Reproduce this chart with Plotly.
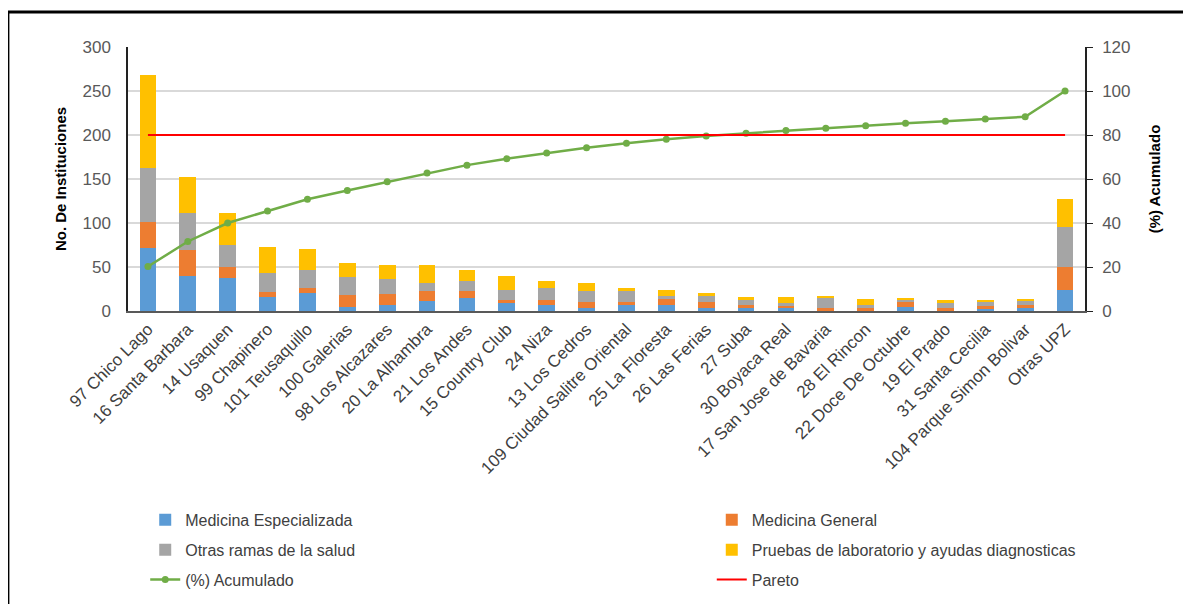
import plotly.graph_objects as go

font_family = "Liberation Sans Narrow, Arial Narrow, Liberation Sans, Arial, sans-serif"
tick_color = "#595959"

upz = ["97 Chico Lago", "16 Santa Barbara", "14 Usaquen", "99 Chapinero", "101 Teusaquillo",
       "100 Galerias", "98 Los Alcazares", "20 La Alhambra", "21 Los Andes", "15 Country Club",
       "24 Niza", "13 Los Cedros", "109 Ciudad Salitre Oriental", "25 La Floresta", "26 Las Ferias",
       "27 Suba", "30 Boyaca Real", "17 San Jose de Bavaria", "28 El Rincon", "22 Doce De Octubre",
       "19 El Prado", "31 Santa Cecilia", "104 Parque Simon Bolivar", "Otras UPZ"]

# valores
med_especializada = [72, 40, 38, 16, 20, 4, 7, 11, 15, 10, 7, 3, 7, 7, 3, 3, 3, 1, 1, 4, 1, 2, 3, 24]
med_general = [29, 29, 12, 6, 6, 14, 12, 12, 8, 2, 6, 7, 3, 7, 7, 4, 3, 2, 2, 6, 2, 4, 4, 26]
otras_ramas = [61, 42, 25, 21, 21, 21, 17, 9, 11, 12, 13, 13, 13, 3, 7, 6, 3, 12, 4, 3, 6, 4, 4, 45]
pruebas_lab = [106, 41, 36, 30, 23, 15, 16, 20, 13, 16, 8, 9, 3, 7, 3, 3, 7, 1, 7, 2, 4, 3, 3, 32]
acumulado = [20.2, 31.6, 40.0, 45.5, 50.8, 54.8, 58.7, 62.7, 66.3, 69.2, 71.8, 74.2, 76.2,
             78.1, 79.6, 80.8, 82.0, 83.1, 84.2, 85.3, 86.3, 87.3, 88.3, 100.0]
pareto = [80] * len(upz)

fig = go.Figure()

bar_series = [
    ("Medicina Especializada", med_especializada, "#5B9BD5", "legend", "g1"),
    ("Medicina General", med_general, "#ED7D31", "legend2", "g2"),
    ("Otras ramas de la salud", otras_ramas, "#A5A5A5", "legend", "g3"),
    ("Pruebas de laboratorio y ayudas diagnosticas", pruebas_lab, "#FFC000", "legend2", "g4"),
]
for name, vals, color, leg, grp in bar_series:
    fig.add_trace(go.Bar(
        name=name, x=upz, y=vals, marker_color=color, width=0.42,
        marker_line_width=0, legend=leg, legendgroup=grp,
    ))

fig.add_trace(go.Scatter(
    name="(%) Acumulado", x=upz, y=acumulado, yaxis="y2", mode="lines+markers",
    line=dict(color="#70AD47", width=2.5), marker=dict(color="#70AD47", size=7),
    legend="legend", legendgroup="g5",
))
fig.add_trace(go.Scatter(
    name="Pareto", x=upz, y=pareto, yaxis="y2", mode="lines",
    line=dict(color="#FF0000", width=2), legend="legend2", legendgroup="g6",
))

legend_common = dict(
    xanchor="left", yanchor="top",
    traceorder="grouped", tracegroupgap=6, orientation="v",
    font=dict(family=font_family, size=16, color="#404040"),
    bgcolor="rgba(0,0,0,0)",
)

# the page body adds 8px around the figure, so size it to fit the window
fig.update_layout(
    barmode="stack",
    width=1175, height=596,
    margin=dict(l=120, r=98, t=39, b=293, autoexpand=False),
    paper_bgcolor="white", plot_bgcolor="white",
    font=dict(family=font_family, color=tick_color),
    showlegend=True,
    legend=dict(x=0.018, y=-0.727, **legend_common),
    legend2=dict(x=0.61, y=-0.727, **legend_common),
    xaxis=dict(
        range=[-0.5, 23.5],
        tickangle=-45, tickfont=dict(family=font_family, size=17, color="#404040"),
        showline=True, linecolor="#595959", linewidth=1.5, ticks="",
        showgrid=False, automargin=False,
    ),
    yaxis=dict(
        range=[0, 300], dtick=50, tickfont=dict(family=font_family, size=17, color=tick_color),
        showline=True, linecolor="#222222", linewidth=1.5, ticks="", ticklabelstandoff=12,
        gridcolor="#D9D9D9", gridwidth=1.5, zeroline=False, automargin=False,
        title=dict(text="<b>No. De Instituciones</b>",
                   font=dict(family="Liberation Sans, Arial, sans-serif", size=15, color="black"),
                   standoff=12),
    ),
    yaxis2=dict(
        overlaying="y", side="right", range=[0, 120], dtick=20,
        tickfont=dict(family=font_family, size=17, color=tick_color),
        showline=True, linecolor="#222222", linewidth=1.5, ticks="outside", ticklen=6,
        ticklabelstandoff=6,
        tickcolor="#222222", showgrid=False, zeroline=False, automargin=False,
        title=dict(text="<b>(%) Acumulado</b>",
                   font=dict(family="Liberation Sans, Arial, sans-serif", size=15, color="black"),
                   standoff=20),
    ),
    shapes=[
        dict(type="rect", xref="paper", yref="paper", x0=-0.1255, x1=1.12,
             y0=-1.2, y1=1.1326, line=dict(color="black", width=3), layer="below",
             fillcolor="rgba(0,0,0,0)"),
    ],
)

fig.write_html("out.html")
